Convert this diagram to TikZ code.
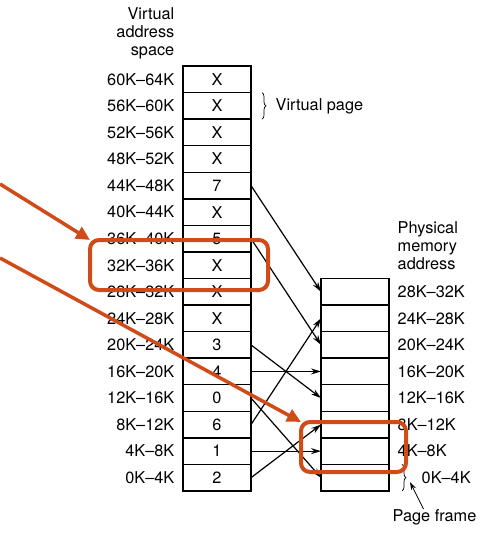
\documentclass[tikz,border=0pt]{standalone}
\usepackage{fontspec}
\setmainfont{TeX Gyre Heros}
\usetikzlibrary{positioning, arrows.meta, decorations.pathreplacing}
\definecolor{hlorange}{RGB}{209,75,25}

\begin{document}
\begin{tikzpicture}[x=1pt, y=-1pt, line width=1.4pt,
        font=\fontsize{16.3}{18}\selectfont,
        cell/.style={draw, minimum width=68pt, minimum height=26.56pt, inner sep=0pt, outer sep=0pt},
        lbl/.style={inner sep=0pt},
        vlabel/.style={label={[lbl, label distance=8pt]left:#1}},
        plabel/.style={label={[lbl, label distance=8pt]right:#1}},
        map/.style={line width=1.2pt, -{Stealth[length=10pt, width=6pt]}},
        hlbox/.style={draw=hlorange, line width=4pt, rounded corners=9pt, inner sep=0pt, outer sep=0pt},
        hlarrow/.style={draw=hlorange, line width=3.5pt, -{Triangle[length=14pt, width=13pt]}}]
                \useasboundingbox (0,0) rectangle (485,541);
                \node[lbl, align=right, anchor=north east] (vhead) at (175,6.5) {Virtual\\address\\space};
                \node[cell, vlabel=60K--64K] (v15) at (217,79.3) {X};
                \node[cell, vlabel=56K--60K, below=0pt of v15] (v14) {X};
                \node[cell, vlabel=52K--56K, below=0pt of v14] (v13) {X};
                \node[cell, vlabel=48K--52K, below=0pt of v13] (v12) {X};
                \node[cell, vlabel=44K--48K, below=0pt of v12] (v11) {7};
                \node[cell, vlabel=40K--44K, below=0pt of v11] (v10) {X};
                \node[cell, vlabel=36K--40K, below=0pt of v10] (v9) {5};
                \node[cell, vlabel=32K--36K, below=0pt of v9] (v8) {X};
                \node[cell, vlabel=28K--32K, below=0pt of v8] (v7) {X};
                \node[cell, vlabel=24K--28K, below=0pt of v7] (v6) {X};
                \node[cell, vlabel=20K--24K, below=0pt of v6] (v5) {3};
                \node[cell, vlabel=16K--20K, below=0pt of v5] (v4) {4};
                \node[cell, vlabel=12K--16K, below=0pt of v4] (v3) {0};
                \node[cell, vlabel=8K--12K, below=0pt of v3] (v2) {6};
                \node[cell, vlabel=4K--8K, below=0pt of v2] (v1) {1};
                \node[cell, vlabel=0K--4K, below=0pt of v1] (v0) {2};
                \node[lbl, align=left, anchor=north west] (phead) at (397,220.5) {Physical\\memory\\address};
                \node[cell, plabel=28K--32K, right=70pt of v7] (f7) {};
                \node[cell, plabel=24K--28K, below=0pt of f7] (f6) {};
                \node[cell, plabel=20K--24K, below=0pt of f6] (f5) {};
                \node[cell, plabel=16K--20K, below=0pt of f5] (f4) {};
                \node[cell, plabel=12K--16K, below=0pt of f4] (f3) {};
                \node[cell, plabel=8K--12K, below=0pt of f3] (f2) {};
                \node[cell, plabel=4K--8K, below=0pt of f2] (f1) {};
                \node[cell, label={[lbl, label distance=32pt]right:0K--4K}, below=0pt of f1] (f0) {};
                \draw[decorate, decoration={brace, amplitude=4pt}, line width=0.7pt] ([xshift=11pt]v14.north east) -- ([xshift=11pt]v14.south east);
                \node[lbl, anchor=west] (vpage) at ([xshift=24pt]v14.east) {Virtual page};
                \draw[decorate, decoration={brace, amplitude=4pt}, line width=0.7pt] ([xshift=13pt]f0.north east) -- ([xshift=13pt]f0.south east);
                \node[lbl, anchor=base] (pframe) at (434.5,521.7) {Page frame};
                \coordinate (pftip) at (410,482);
                \draw[line width=0.8pt, -{Stealth[length=8pt, width=5pt]}] ([xshift=-11pt]pframe.north) -- (pftip);
                \draw[map] (v11.east) -- (f7.west);
                \draw[map] (v9.east) -- (f5.west);
                \draw[map] (v5.east) -- (f3.west);
                \draw[map] (v4.east) -- (f4.west);
                \draw[map] (v3.east) -- (f0.west);
                \draw[map] (v2.east) -- (f6.west);
                \draw[map] (v1.east) -- (f1.west);
                \draw[map] (v0.east) -- (f2.west);
                \node[hlbox, minimum width=178pt, minimum height=50pt] (hl1) at (179,265) {};
                \node[hlbox, minimum width=105pt, minimum height=50pt] (hl2) at (353.5,447) {};
                \coordinate (o1) at (0,184);
                \coordinate (o2) at (0,258);
                \draw[hlarrow] (o1) -- (hl1.north west);
                \draw[hlarrow] (o2) -- (hl2.north west);
            \end{tikzpicture}
\end{document}
